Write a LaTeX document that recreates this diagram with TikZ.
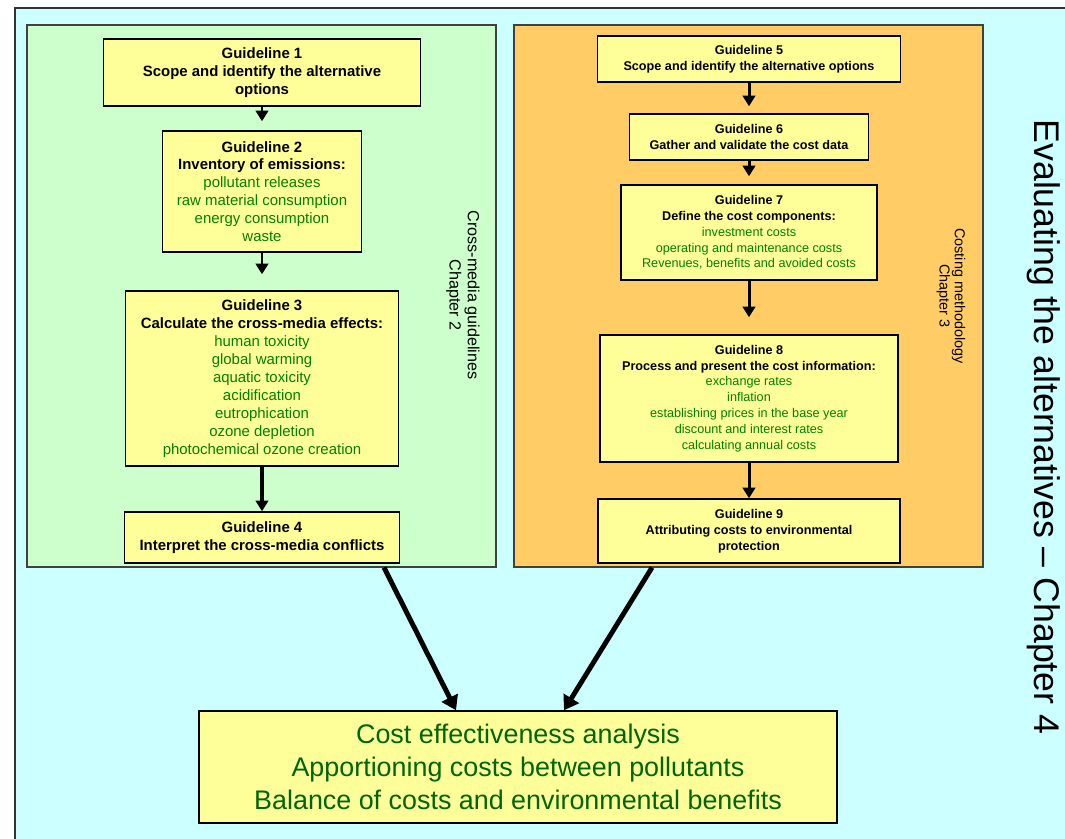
\documentclass[tikz,border=0pt]{standalone}
\usepackage{fontspec}
\setmainfont{Liberation Sans}
\usetikzlibrary{arrows.meta}

\definecolor{bgcyan}{RGB}{204,255,255}
\definecolor{panelgreen}{RGB}{204,255,204}
\definecolor{panelorange}{RGB}{255,204,102}
\definecolor{boxyellow}{RGB}{255,255,153}
\definecolor{itemgreen}{RGB}{0,128,0}
\definecolor{deepgreen}{RGB}{0,100,0}

\newcommand{\itm}[1]{\textcolor{itemgreen}{\mdseries #1}}

\begin{document}
\begin{tikzpicture}[
	panel/.style={draw=black!75, line width=0.6pt, inner sep=0pt},
	gbox/.style={
		draw, line width=0.8pt, fill=boxyellow, align=center, inner sep=2pt,
		font=\fontsize{8.5}{10.2}\selectfont\bfseries
	},
	cbox/.style={gbox, font=\fontsize{7.2}{9}\selectfont\bfseries},
	result/.style={
		draw, line width=0.8pt, fill=boxyellow, align=center, text=deepgreen,
		font=\fontsize{15.3}{18.6}\selectfont
	},
	flow/.style={-{Triangle[width=7pt,length=6pt]}, line width=1.7pt},
	bigflow/.style={-{Triangle[width=10pt,length=8pt]}, line width=2.8pt},
	side/.style={rotate=-90, align=center},
	]
	
	\useasboundingbox (0,0) rectangle (21.3,16.78);
	\clip (0,0) rectangle (21.3,16.78);
	\draw[fill=bgcyan, draw=black!80, line width=0.6pt] (0.30,16.62) rectangle (21.6,-0.3);
	
	\node[panel, fill=panelgreen,  minimum width=9.38cm, minimum height=10.84cm] (cmpanel)   at (5.23,10.86) {};
	\node[panel, fill=panelorange, minimum width=9.38cm, minimum height=10.84cm] (costpanel) at (14.97,10.86) {};
	
	\node[gbox, minimum width=6.34cm, minimum height=1.34cm] (g1) at (5.24,15.33)
		{Guideline 1\\Scope and identify the alternative\\options};
	\node[gbox, minimum width=3.98cm, minimum height=2.42cm] (g2) at (5.24,12.95)
		{Guideline 2\\Inventory of emissions:\\\itm{pollutant releases}\\\itm{raw material consumption}\\\itm{energy consumption}\\\itm{waste}};
	\node[gbox, minimum width=5.46cm, minimum height=3.50cm] (g3) at (5.24,9.21)
		{Guideline 3\\Calculate the cross-media effects:\\\itm{human toxicity}\\\itm{global warming}\\\itm{aquatic toxicity}\\\itm{acidification}\\\itm{eutrophication}\\\itm{ozone depletion}\\\itm{photochemical ozone creation}};
	\node[gbox, minimum width=5.50cm, minimum height=1.02cm] (g4) at (5.24,6.03)
		{Guideline 4\\Interpret the cross-media conflicts};
	
	\node[cbox, minimum width=6.06cm, minimum height=0.92cm] (g5) at (14.98,15.60)
		{Guideline 5\\Scope and identify the alternative options};
	\node[cbox, minimum width=4.78cm, minimum height=0.92cm] (g6) at (14.98,14.04)
		{Guideline 6\\Gather and validate the cost data};
	\node[cbox, minimum width=5.12cm, minimum height=1.90cm] (g7) at (14.98,12.13)
		{Guideline 7\\Define the cost components:\\\itm{investment costs}\\\itm{operating and maintenance costs}\\\itm{Revenues, benefits and avoided costs}};
	\node[cbox, minimum width=5.96cm, minimum height=2.54cm] (g8) at (14.98,8.81)
		{Guideline 8\\Process and present the cost information:\\\itm{exchange rates}\\\itm{inflation}\\\itm{establishing prices in the base year}\\\itm{discount and interest rates}\\\itm{calculating annual costs}};
	\node[cbox, minimum width=6.04cm, minimum height=1.28cm] (g9) at (14.98,6.16)
		{Guideline 9\\Attributing costs to environmental\\protection};
	
	\node[result, minimum width=12.76cm, minimum height=2.24cm] (final) at (10.36,1.44)
		{Cost effectiveness analysis\\Apportioning costs between pollutants\\Balance of costs and environmental benefits};
	
	\node[side, font=\fontsize{9.2}{10.4}\selectfont] (cmlabel) at (9.26,10.88)
		{Cross-media guidelines\\Chapter 2};
	\node[side, font=\fontsize{8.2}{8.6}\selectfont] (costlabel) at (19.02,10.86)
		{Costing methodology\\Chapter 3};
	\node[side, font=\fontsize{20.3}{24}\selectfont] (title) at (20.88,8.24)
		{Evaluating the alternatives -- Chapter 4};
	
	\draw[flow, shorten >=0.18cm] (g1.south) -- (g2.north);
	\draw[flow, shorten >=0.32cm] (g2.south) -- (g3.north);
	\draw[flow, line width=2.6pt] (g3.south) -- (g4.north);
	\draw[flow, shorten >=0.14cm] (g5.south) -- (g6.north);
	\draw[flow, shorten >=0.16cm] (g6.south) -- (g7.north);
	\draw[flow, shorten >=0.34cm] (g7.south) -- (g8.north);
	\draw[flow] (g8.south) -- (g9.north);
	
	\draw[bigflow] ([xshift=2.45cm]cmpanel.south) -- ([xshift=-1.24cm]final.north);
	\draw[bigflow] ([xshift=-1.93cm]costpanel.south) -- ([xshift=0.92cm]final.north);
	
\end{tikzpicture}
\end{document}
